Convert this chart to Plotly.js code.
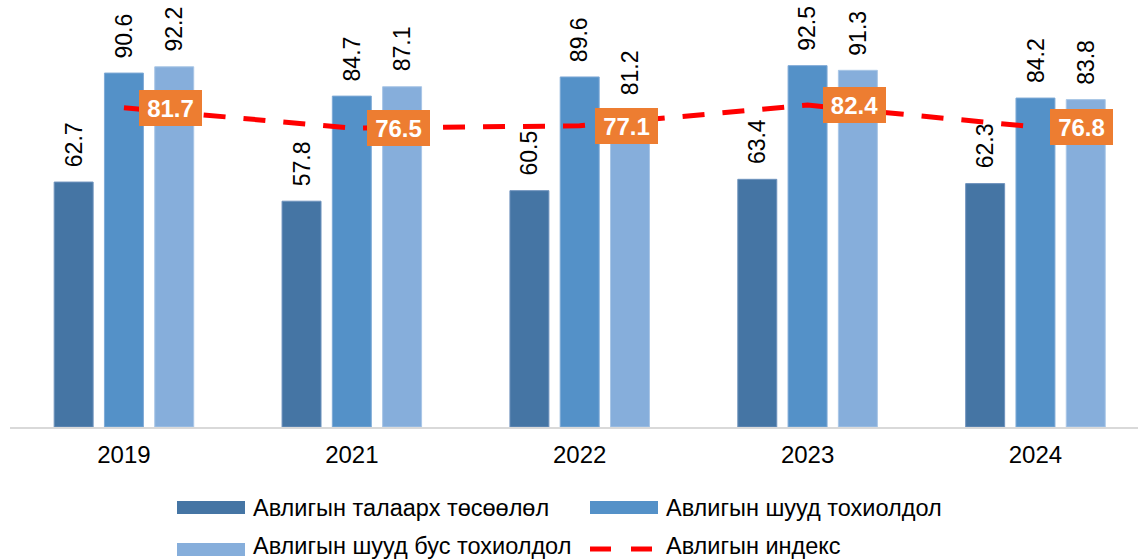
<!DOCTYPE html>
<html><head><meta charset="utf-8">
<script src="https://cdn.plot.ly/plotly-3.0.1.min.js"></script>
<style>html,body{margin:0;padding:0;background:#fff}#chart{width:1138px;height:560px}</style>
</head><body><div id="chart"></div>
<script>
const years = ['2019','2021','2022','2023','2024'];
const perception = [62.7, 57.8, 60.5, 63.4, 62.3];
const direct = [90.6, 84.7, 89.6, 92.5, 84.2];
const indirect = [92.2, 87.1, 81.2, 91.3, 83.8];
const indexVals = [81.7, 76.5, 77.1, 82.4, 76.8];
const seriesNames = ['Авлигын талаарх төсөөлөл','Авлигын шууд тохиолдол','Авлигын шууд бус тохиолдол','Авлигын индекс'];
const colors = ['#4575A4','#5491C8','#86AEDB'];
const edge = ['#6F93BD','#7FAAD6','#A9C6E6'];

const W=1138,H=560,ML=10,MR=0,MT=0,MB=133;
const bargap=0.338, bargroupgap=0.225;
const slot=(1-bargap)/3;
const FONT='Liberation Sans, Arial, sans-serif';

const barSeries=[perception,direct,indirect];
const traces=barSeries.map((v,k)=>({
  type:'bar', x:years, y:v, name:seriesNames[k], showlegend:false,
  marker:{color:colors[k], line:{color:edge[k], width:1}}, hoverinfo:'skip'
}));
traces.push({type:'scatter', mode:'lines', x:years, y:indexVals, name:seriesNames[3], showlegend:false,
  line:{color:'#FF0000', width:5, dash:'22px,18px'}, hoverinfo:'skip'});

const ann=[];
barSeries.forEach((v,k)=>v.forEach((val,i)=>{
  ann.push({x:i+(k-1)*slot, y:val, xref:'x', yref:'y', text:val.toFixed(1), showarrow:false,
    textangle:-90, yanchor:'bottom', xanchor:'center', yshift:13,
    font:{family:FONT, size:23, color:'#000'}});
}));
indexVals.forEach((val,i)=>{
  ann.push({x:i, y:val, xref:'x', yref:'y', text:'<b>'+val.toFixed(1)+'</b>', showarrow:false,
    xanchor:'left', yanchor:'middle', xshift:15, bgcolor:'#ED7D31', borderpad:0, borderwidth:0,
    width:63, height:36, align:'center',
    font:{family:FONT, size:24, color:'#fff'}});
});

const pw=W-ML-MR, ph=H-MT-MB;
const px=x=>(x-ML)/pw, py=y=>(H-MB-y)/ph;
const shapes=[];
const legItems=[
  {c:colors[0],x0:177,x1:245,y0:501,y1:514,tx:251,ty:508,t:seriesNames[0]},
  {c:colors[1],x0:590,x1:658,y0:501,y1:514,tx:664,ty:508,t:seriesNames[1]},
  {c:colors[2],x0:177,x1:245,y0:543,y1:556,tx:251,ty:546,t:seriesNames[2]},
];
legItems.forEach(it=>{
  shapes.push({type:'rect',xref:'paper',yref:'paper',x0:px(it.x0),x1:px(it.x1),y0:py(it.y1),y1:py(it.y0),
    fillcolor:it.c,line:{width:0}});
  ann.push({xref:'paper',yref:'paper',x:px(it.tx),y:py(it.ty),text:it.t,showarrow:false,xanchor:'left',yanchor:'middle',
    font:{family:FONT,size:23.5,color:'#000'}});
});
[[590,611],[631,652]].forEach(d=>{
  shapes.push({type:'line',xref:'paper',yref:'paper',x0:px(d[0]),x1:px(d[1]),y0:py(549),y1:py(549),
    line:{color:'#FF0000',width:5}});
});
ann.push({xref:'paper',yref:'paper',x:px(664),y:py(546),text:seriesNames[3],showarrow:false,xanchor:'left',yanchor:'middle',
  font:{family:FONT,size:23.5,color:'#000'}});

const layout={
  width:W,height:H,margin:{l:ML,r:MR,t:MT,b:MB},
  paper_bgcolor:'#fff',plot_bgcolor:'#fff',
  barmode:'group',bargap:bargap,bargroupgap:bargroupgap,
  showlegend:false,
  xaxis:{type:'category',range:[-0.5,4.45],showline:true,linecolor:'#D9D9D9',linewidth:2,
    showgrid:false,zeroline:false,ticks:'',ticklabelstandoff:5,
    tickfont:{family:FONT,size:24,color:'#000'}},
  yaxis:{range:[0,109.3],visible:false,showgrid:false,zeroline:false},
  annotations:ann,shapes:shapes
};
Plotly.newPlot('chart',traces,layout,{staticPlot:true,displayModeBar:false});
</script></body></html>
